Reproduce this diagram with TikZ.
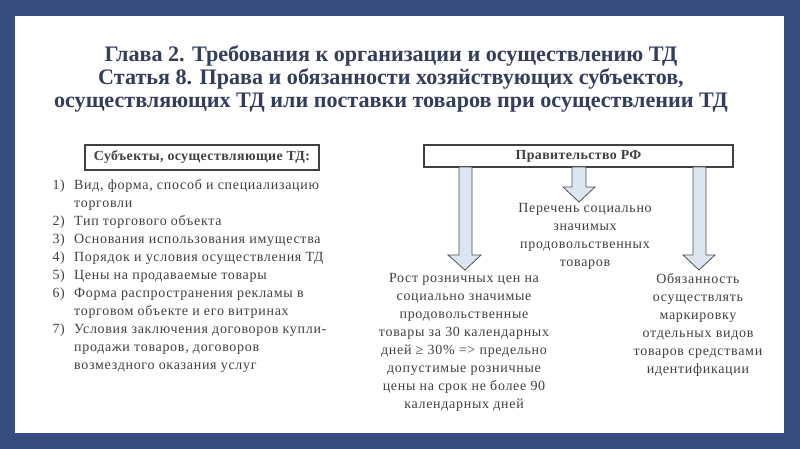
\documentclass[tikz,border=0pt]{standalone}
\usepackage{fontspec}
\setmainfont{Liberation Serif}
\newfontfamily\bodyfont[LetterSpace=5]{Liberation Serif}
\newfontfamily\headfont[LetterSpace=3]{Liberation Serif}

\definecolor{frameblue}{RGB}{55,77,125}
\definecolor{titleink}{RGB}{50,62,92}
\definecolor{bodyink}{RGB}{64,64,64}
\definecolor{arrowfill}{RGB}{220,230,242}
\definecolor{arrowline}{RGB}{80,80,80}

\tikzset{every picture/.style={line width=0.75pt}}
\tikzset{
  bodytext/.style={inner sep=0pt, text=bodyink, align=center, font=\bodyfont\fontsize{10.5}{13.5}\selectfont},
  headbox/.style={draw=bodyink, line width=0.9pt, inner sep=0pt, text=bodyink, font=\headfont\bfseries\fontsize{10.4}{12}\selectfont},
  downarrow/.style={draw=arrowline, fill=arrowfill, line width=0.6pt, line join=miter}
}

\begin{document}
\begin{tikzpicture}[x=0.75pt,y=0.75pt,yscale=-1,xscale=1]
\useasboundingbox (0,0) rectangle (800,449);

%Shape: Rectangle [id:frame] 
\fill [frameblue] (0,0) rectangle (800,449) ;
%Shape: Rectangle [id:sheet] 
\fill [white] (15,16) rectangle (784,433) ;

% Text Node
\node (title) at (391,79) [inner sep=0pt, text=titleink, align=center, font=\bfseries\fontsize{16.6}{16.9}\selectfont] {Глава 2. Требования к организации и осуществлению ТД\\Статья 8. Права и обязанности хозяйствующих субъектов,\\осуществляющих ТД или поставки товаров при осуществлении ТД};

%Shape: Rectangle [id:subjects] 
\node (subj) [headbox, minimum width=234*0.75pt, minimum height=25*0.75pt] at (202,157.5) {Субъекты, осуществляющие ТД:};
%Shape: Rectangle [id:gov] 
\node (gov) [headbox, minimum width=309*0.75pt, minimum height=22*0.75pt, text depth=2pt] at (578.5,156) {Правительство РФ};

% Text Node
\node (list) at (52,276) [anchor=west, bodytext, align=left] {%
\begin{tabular}{@{}l@{\hspace{7pt}}l@{}}
1) & Вид, форма, способ и специализацию\\
   & торговли\\
2) & Тип торгового объекта\\
3) & Основания использования имущества\\
4) & Порядок и условия осуществления ТД\\
5) & Цены на продаваемые товары\\
6) & Форма распространения рекламы в\\
   & торговом объекте и его витринах\\
7) & Условия заключения договоров купли-\\
   & продажи товаров, договоров\\
   & возмездного оказания услуг
\end{tabular}};

%Shape: Down Arrow [id:arrowleft] 
\draw [downarrow] (459,167) -- (472,167) -- (472,255) -- (481,255) -- (465,270) -- (448,255) -- (459,255) -- cycle ;
%Shape: Down Arrow [id:arrowmid] 
\draw [downarrow] (572,167) -- (586,167) -- (586,187) -- (595,187) -- (579,202) -- (563,187) -- (572,187) -- cycle ;
%Shape: Down Arrow [id:arrowright] 
\draw [downarrow] (693,167) -- (706,167) -- (706,255) -- (715,255) -- (699,270) -- (683,255) -- (693,255) -- cycle ;

% Text Node
\node (goodslist) at (585,236) [bodytext] {Перечень социально\\значимых\\продовольственных\\товаров};
% Text Node
\node (pricegrowth) at (464,342) [bodytext] {Рост розничных цен на\\социально значимые\\продовольственные\\товары за 30 календарных\\дней ≥ 30\% => предельно\\допустимые розничные\\цены на срок не более 90\\календарных дней};
% Text Node
\node (marking) at (698,325) [bodytext] {Обязанность\\осуществлять\\маркировку\\отдельных видов\\товаров средствами\\идентификации};

\end{tikzpicture}
\end{document}
